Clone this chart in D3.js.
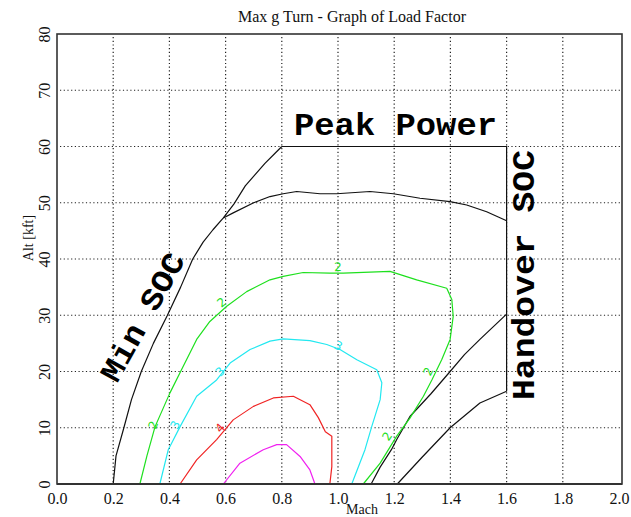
<!DOCTYPE html>
<html>
<head>
<meta charset="utf-8">
<script src="https://cdn.jsdelivr.net/npm/d3@7"></script>
<style>
  body { margin: 0; background: #fff; }
  svg { display: block; }
  .tick-label { font-family: 'Liberation Serif', 'Times New Roman', serif; font-size: 16px; fill: #111; }
  .title { font-family: 'Liberation Serif', 'Times New Roman', serif; font-size: 16px; fill: #111; }
  .axis-title { font-family: 'Liberation Serif', 'Times New Roman', serif; font-size: 14px; fill: #111; }
  .big-label { font-family: 'Courier New', 'Liberation Mono', monospace; font-weight: bold; font-size: 31px; fill: #000; }
  .grid line { stroke: #222; stroke-width: 1.2; stroke-dasharray: 1.2 2.5; }
  .curve { fill: none; stroke-width: 1.2; stroke-linejoin: round; }
  .contour-label { font-family: 'DejaVu Sans', sans-serif; font-size: 12px; }
</style>
</head>
<body>
<div id="chart"></div>
<script>
// [Mach, altitude kft]
const minSoc = [[0.2, 0], [0.21, 5], [0.238, 10], [0.265, 15], [0.30, 20], [0.343, 25], [0.393, 30],
  [0.44, 35], [0.483, 40], [0.52, 43], [0.555, 45.2], [0.592, 47.3], [0.63, 49.8], [0.67, 53],
  [0.705, 55], [0.74, 57], [0.776, 58.8], [0.8, 60]];
const peakPower = [[0.8, 60], [1.6, 60], [1.6, 16.5]];
const ceiling = [[0.592, 47.3], [0.627, 48.2], [0.70, 50], [0.758, 51.1], [0.805, 51.6], [0.853, 52],
  [0.936, 51.6], [0.995, 51.6], [1.114, 52], [1.197, 51.6], [1.292, 50.8], [1.399, 50.2],
  [1.458, 49.6], [1.529, 48.4], [1.6, 46.8]];
const handoverUpper = [[1.118, 0], [1.15, 3], [1.19, 6.1], [1.21, 8], [1.256, 12], [1.33, 16],
  [1.399, 20], [1.45, 23], [1.505, 25.7], [1.6, 30.2]];
const handoverLower = [[1.211, 0], [1.3, 4.8], [1.399, 10], [1.505, 14.4], [1.6, 16.5]];

const loadFactor2 = [[0.295, 0], [0.32, 5], [0.349, 10.2], [0.402, 16.2], [0.443, 20.3], [0.497, 25.7],
  [0.544, 28.9], [0.604, 31.6], [0.675, 34.2], [0.758, 36.3], [0.805, 36.9], [0.876, 37.6],
  [0.971, 37.5], [1.019, 37.5], [1.185, 37.8], [1.28, 36.3], [1.387, 34.8], [1.405, 32.8],
  [1.41, 29.8], [1.399, 25.7], [1.369, 22.1], [1.334, 18.5], [1.304, 15.6], [1.256, 11.7],
  [1.209, 8.5], [1.15, 3.7], [1.09, 0]];
const loadFactor3 = [[0.366, 0], [0.396, 6.1], [0.438, 10.2], [0.497, 15.6], [0.568, 18.5], [0.616, 21.5],
  [0.687, 23.9], [0.758, 25.4], [0.805, 25.8], [0.90, 25.5], [0.96, 24.8], [1.007, 23.9],
  [1.067, 22.1], [1.138, 20.3], [1.156, 18], [1.15, 15], [1.12, 10.2], [1.096, 6.1], [1.049, 0]];
const loadFactor4 = [[0.438, 0], [0.497, 4.3], [0.568, 7.9], [0.627, 11.4], [0.699, 13.8], [0.77, 15.3],
  [0.841, 15.6], [0.90, 14.1], [0.93, 11.8], [0.955, 9.3], [0.978, 8.5], [0.978, 3.1], [0.971, 0]];
const loadFactor5 = [[0.592, 0], [0.651, 3.7], [0.734, 6.1], [0.782, 7.0], [0.817, 7.0], [0.865, 4.9],
  [0.90, 2.5], [0.918, 0]];

const contourValues = ['2', '3', '4', '5'];
// where each contour carries its value label, [Mach, kft]
const labelSpots2 = [[1.0, 38.6], [0.586, 32.3], [0.342, 10.5], [1.321, 20], [1.175, 8.5]];
const labelSpots3 = [[1.001, 24.6], [0.58, 20], [0.42, 10.5]];
const labelSpots4 = [[0.58, 10]];
const labelSpots5 = [];

const machTicks = [0, 0.2, 0.4, 0.6, 0.8, 1.0, 1.2, 1.4, 1.6, 1.8, 2.0];
const altTicks = [0, 10, 20, 30, 40, 50, 60, 70, 80];

const width = 631;
const height = 517;
const plotLeft = 57, plotRight = 619, plotTop = 34, plotBottom = 484;

let x = d3.scaleLinear().domain([0, 2]).range([plotLeft, plotRight]);
let y = d3.scaleLinear().domain([0, 80]).range([plotBottom, plotTop]);

let svg = d3.select('#chart').append('svg')
  .attr('width', width)
  .attr('height', height)

svg.append('text')
  .classed('title', true)
  .attr('x', 352)
  .attr('y', 22)
  .attr('text-anchor', 'middle')
  .text('Max g Turn - Graph of Load Factor')

let grid = svg.append('g').classed('grid', true)

grid.selectAll('line.v').data(machTicks.slice(1, -1)).enter().append('line')
  .attr('x1', d => x(d)).attr('x2', d => x(d))
  .attr('y1', plotTop + 3).attr('y2', plotBottom)

grid.selectAll('line.h').data(altTicks.slice(1, -1)).enter().append('line')
  .attr('x1', plotLeft + 3).attr('x2', plotRight + 3)
  .attr('y1', d => y(d)).attr('y2', d => y(d))

let line = d3.line().x(d => x(d[0])).y(d => y(d[1]));

const series = [
  {data: minSoc, color: '#111'},
  {data: peakPower, color: '#111'},
  {data: ceiling, color: '#111'},
  {data: handoverUpper, color: '#111'},
  {data: handoverLower, color: '#111'},
  {data: loadFactor2, color: '#1ee01e'},
  {data: loadFactor3, color: '#22e8f0'},
  {data: loadFactor4, color: '#f02424'},
  {data: loadFactor5, color: '#f020f0'}
];

svg.selectAll('path.curve').data(series).enter().append('path')
  .classed('curve', true)
  .attr('stroke', d => d.color)
  .attr('d', d => line(d.data))

// contour value labels, turned along the local direction of the curve
const contours = [
  {value: contourValues[0], data: loadFactor2, spots: labelSpots2, color: '#1ee01e'},
  {value: contourValues[1], data: loadFactor3, spots: labelSpots3, color: '#22e8f0'},
  {value: contourValues[2], data: loadFactor4, spots: labelSpots4, color: '#f02424'},
  {value: contourValues[3], data: loadFactor5, spots: labelSpots5, color: '#f020f0'}
];

let angleAt = (data, p) => {
  let best = 0, bestDist = Infinity;
  data.forEach((d, i) => {
    let dist = Math.hypot(x(d[0]) - x(p[0]), y(d[1]) - y(p[1]));
    if (dist < bestDist) { bestDist = dist; best = i; }
  });
  let a = data[Math.max(0, best - 1)], b = data[Math.min(data.length - 1, best + 1)];
  let angle = Math.atan2(y(b[1]) - y(a[1]), x(b[0]) - x(a[0])) * 180 / Math.PI;
  if (angle > 90) angle -= 180;
  if (angle < -90) angle += 180;
  return angle;
}

contours.forEach(c => {
  svg.selectAll(null).data(c.spots).enter().append('text')
    .classed('contour-label', true)
    .attr('fill', c.color)
    .attr('text-anchor', 'middle')
    .attr('dy', '0.35em')
    .attr('transform', d => `translate(${x(d[0])}, ${y(d[1])}) rotate(${angleAt(c.data, d)})`)
    .text(c.value)
})

// frame
svg.append('rect')
  .attr('x', plotLeft)
  .attr('y', plotTop)
  .attr('width', plotRight + 3 - plotLeft)
  .attr('height', plotBottom - plotTop)
  .attr('fill', 'none')
  .attr('stroke', '#333')
  .attr('stroke-width', 1.6)

svg.append('line')
  .attr('x1', plotLeft).attr('x2', plotRight + 3)
  .attr('y1', plotBottom).attr('y2', plotBottom)
  .attr('stroke', '#333').attr('stroke-width', 2.2)

let xAxis = svg.append('g')
  .attr('transform', `translate(0, ${plotBottom})`)
  .call(d3.axisBottom(x).tickValues(machTicks).tickSize(0).tickFormat(d3.format('.1f')))

xAxis.select('.domain').remove()
xAxis.selectAll('text')
  .attr('class', 'tick-label')
  .attr('y', 20)
  .attr('dy', 0)
  .attr('fill', null)

let yAxis = svg.append('g')
  .attr('transform', `translate(${plotLeft}, 0)`)
  .call(d3.axisLeft(y).tickValues(altTicks).tickSize(0).tickFormat(d3.format('d')))

yAxis.select('.domain').remove()
yAxis.selectAll('text')
  .attr('class', 'tick-label')
  .attr('text-anchor', 'middle')
  .attr('transform', 'rotate(-90)')
  .attr('x', 0)
  .attr('y', -7)
  .attr('dy', 0)
  .attr('fill', null)

svg.append('text')
  .classed('axis-title', true)
  .attr('x', 362)
  .attr('y', 514)
  .attr('text-anchor', 'middle')
  .text('Mach')

svg.append('text')
  .classed('axis-title', true)
  .attr('transform', 'translate(33, 238) rotate(-90)')
  .attr('text-anchor', 'middle')
  .text('Alt [kft]')

svg.append('text')
  .classed('big-label', true)
  .attr('x', 294)
  .attr('y', 135)
  .attr('textLength', 203)
  .attr('lengthAdjust', 'spacingAndGlyphs')
  .text('Peak Power')

svg.append('text')
  .classed('big-label', true)
  .attr('transform', 'translate(117, 384) rotate(-61)')
  .attr('textLength', 142)
  .attr('lengthAdjust', 'spacingAndGlyphs')
  .text('Min SOC')

svg.append('text')
  .classed('big-label', true)
  .attr('transform', 'translate(534, 400) rotate(-90)')
  .attr('textLength', 250)
  .attr('lengthAdjust', 'spacingAndGlyphs')
  .text('Handover SOC')
</script>
</body>
</html>
